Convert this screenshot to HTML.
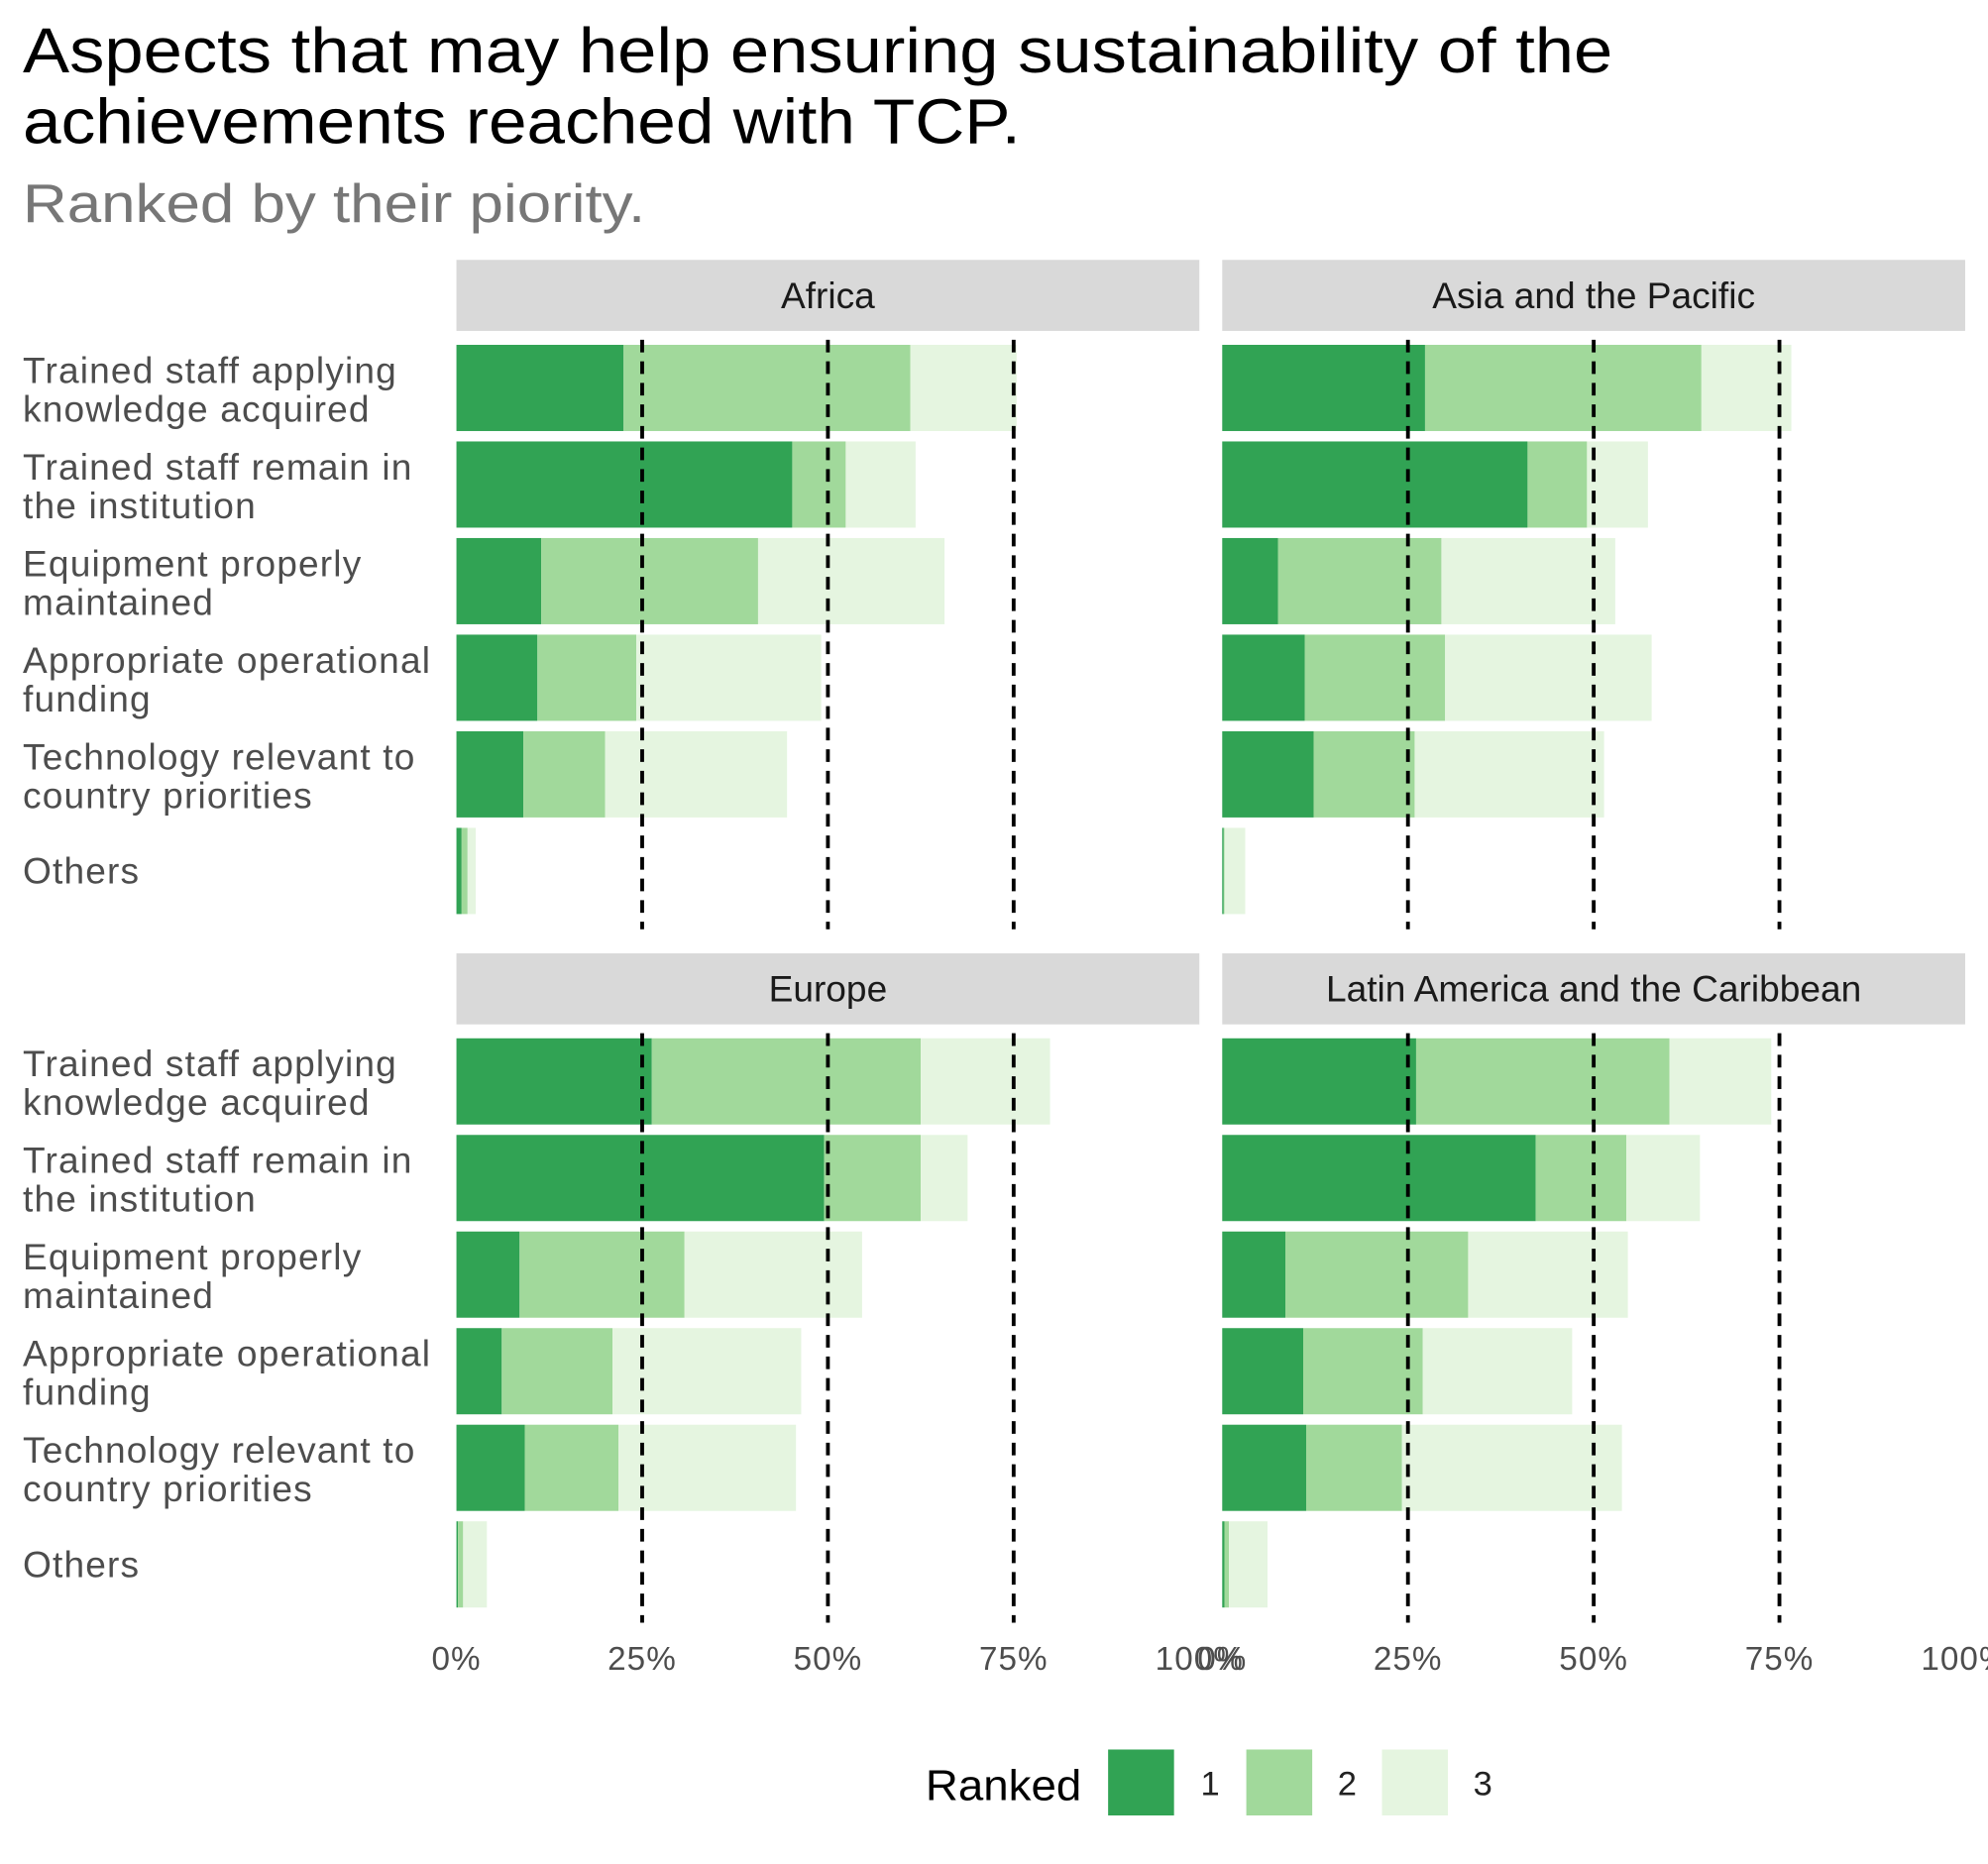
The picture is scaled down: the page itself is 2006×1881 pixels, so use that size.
<!DOCTYPE html>
<html><head><meta charset="utf-8">
<style>
html,body{margin:0;padding:0;background:#fff;}
svg{display:block;font-family:"Liberation Sans","DejaVu Sans",sans-serif;}
</style></head>
<body>
<svg id="chart" width="2006" height="1881" viewBox="0 0 1568 1470.3" xmlns="http://www.w3.org/2000/svg">
<text x="18" y="57" font-size="50" fill="#000" textLength="1254" lengthAdjust="spacingAndGlyphs">Aspects that may help ensuring sustainability of the</text>
<text x="18" y="113" font-size="50" fill="#000" textLength="787" lengthAdjust="spacingAndGlyphs">achievements reached with TCP.</text>
<text x="18" y="175" font-size="43" fill="#777" textLength="491" lengthAdjust="spacingAndGlyphs">Ranked by their piority.</text>
<g id="panels"></g>
<g>
<text x="730" y="1420" font-size="34" fill="#000" textLength="123" lengthAdjust="spacingAndGlyphs">Ranked</text>
<rect x="874" y="1380" width="52" height="52" fill="#31a354"/>
<text x="947" y="1416" font-size="27" fill="#222">1</text>
<rect x="983" y="1380" width="52" height="52" fill="#a1d99b"/>
<text x="1055" y="1416" font-size="27" fill="#222">2</text>
<rect x="1090" y="1380" width="52" height="52" fill="#e5f5e0"/>
<text x="1162" y="1416" font-size="27" fill="#222">3</text>
</g>
</svg>
<script>
const regions = ["Africa","Asia and the Pacific","Europe","Latin America and the Caribbean"];
const categories = ["Trained staff applying|knowledge acquired","Trained staff remain in|the institution","Equipment properly|maintained","Appropriate operational|funding","Technology relevant to|country priorities","Others"];
const rank1 = [[22.5,45.2,11.4,10.9,9.0,0.7],[27.3,41.1,7.5,11.1,12.3,0.2],[26.3,49.5,8.5,6.1,9.2,0.2],[26.1,42.2,8.5,10.9,11.3,0.3]];
const rank2 = [[38.6,7.2,29.2,13.3,11.0,0.8],[37.2,8.0,22.0,18.9,13.6,0.1],[36.2,13.0,22.2,14.9,12.6,0.7],[34.1,12.2,24.6,16.1,12.9,0.6]];
const rank3 = [[14.3,9.4,25.1,24.9,24.5,1.1],[12.1,8.2,23.4,27.8,25.5,2.8],[17.4,6.3,23.9,25.4,23.9,3.2],[13.7,9.9,21.5,20.1,29.6,5.2]];
const tickValues = [0,25,50,75,100];
const tickLabels = ["0%","25%","50%","75%","100%"];
const dashValues = [25,50,75];

const NS="http://www.w3.org/2000/svg";
const colors=["#31a354","#a1d99b","#e5f5e0"];
const g=document.getElementById('panels');
function mk(tag,attrs,parent){const e=document.createElementNS(NS,tag);for(const k in attrs)e.setAttribute(k,attrs[k]);(parent||g).appendChild(e);return e;}
const panelX=[360,964,360,964], panelTop=[205,205,752,752], W=586;
regions.forEach((reg,p)=>{
  const x0=panelX[p], top=panelTop[p];
  const xs=v=>x0+v/100*W;
  const ys=i=>top+101+i*76.2;
  const strip=mk('rect',{x:x0,y:top,width:W,height:56,fill:"#d9d9d9"});
  
  
  const st=mk('text',{x:x0+W/2,y:top+38,'font-size':29,'text-anchor':'middle',fill:"#1a1a1a"});
  st.textContent=reg;
  
  
  categories.forEach((c,i)=>{
    const vals=[rank1[p][i],rank2[p][i],rank3[p][i]];
    let cum=0;
    vals.forEach((v,k)=>{
      const r=mk('rect',{x:xs(cum),y:ys(i)-34,width:Math.max(0,xs(cum+v)-xs(cum)),height:68,fill:colors[k]});
      
      
      cum+=v;
    });
    if(p%2===0){
      const parts=c.split('|');
      const t=mk('text',{x:18,y:ys(i)+(parts.length>1?-4:10),'font-size':29,fill:"#4d4d4d",'letter-spacing':'0.9'});
      
      
      parts.forEach((s,j)=>{const ts=mk('tspan',{x:18,dy:j?30.5:0},t);ts.textContent=s;});
    }
  });
  dashValues.forEach(v=>{
    const l=mk('line',{x1:xs(v),x2:xs(v),y1:top+63,y2:top+528,stroke:"#000",'stroke-width':3,'stroke-dasharray':"10,7"});
    
    
  });
  if(p>=2){
    tickValues.forEach((v,k)=>{
      const t=mk('text',{x:xs(v),y:1317,'font-size':26,'text-anchor':'middle',fill:"#4d4d4d",'letter-spacing':'0.8'});
      t.textContent=tickLabels[k];
      
      
    });
  }
});
</script>
</body></html>
